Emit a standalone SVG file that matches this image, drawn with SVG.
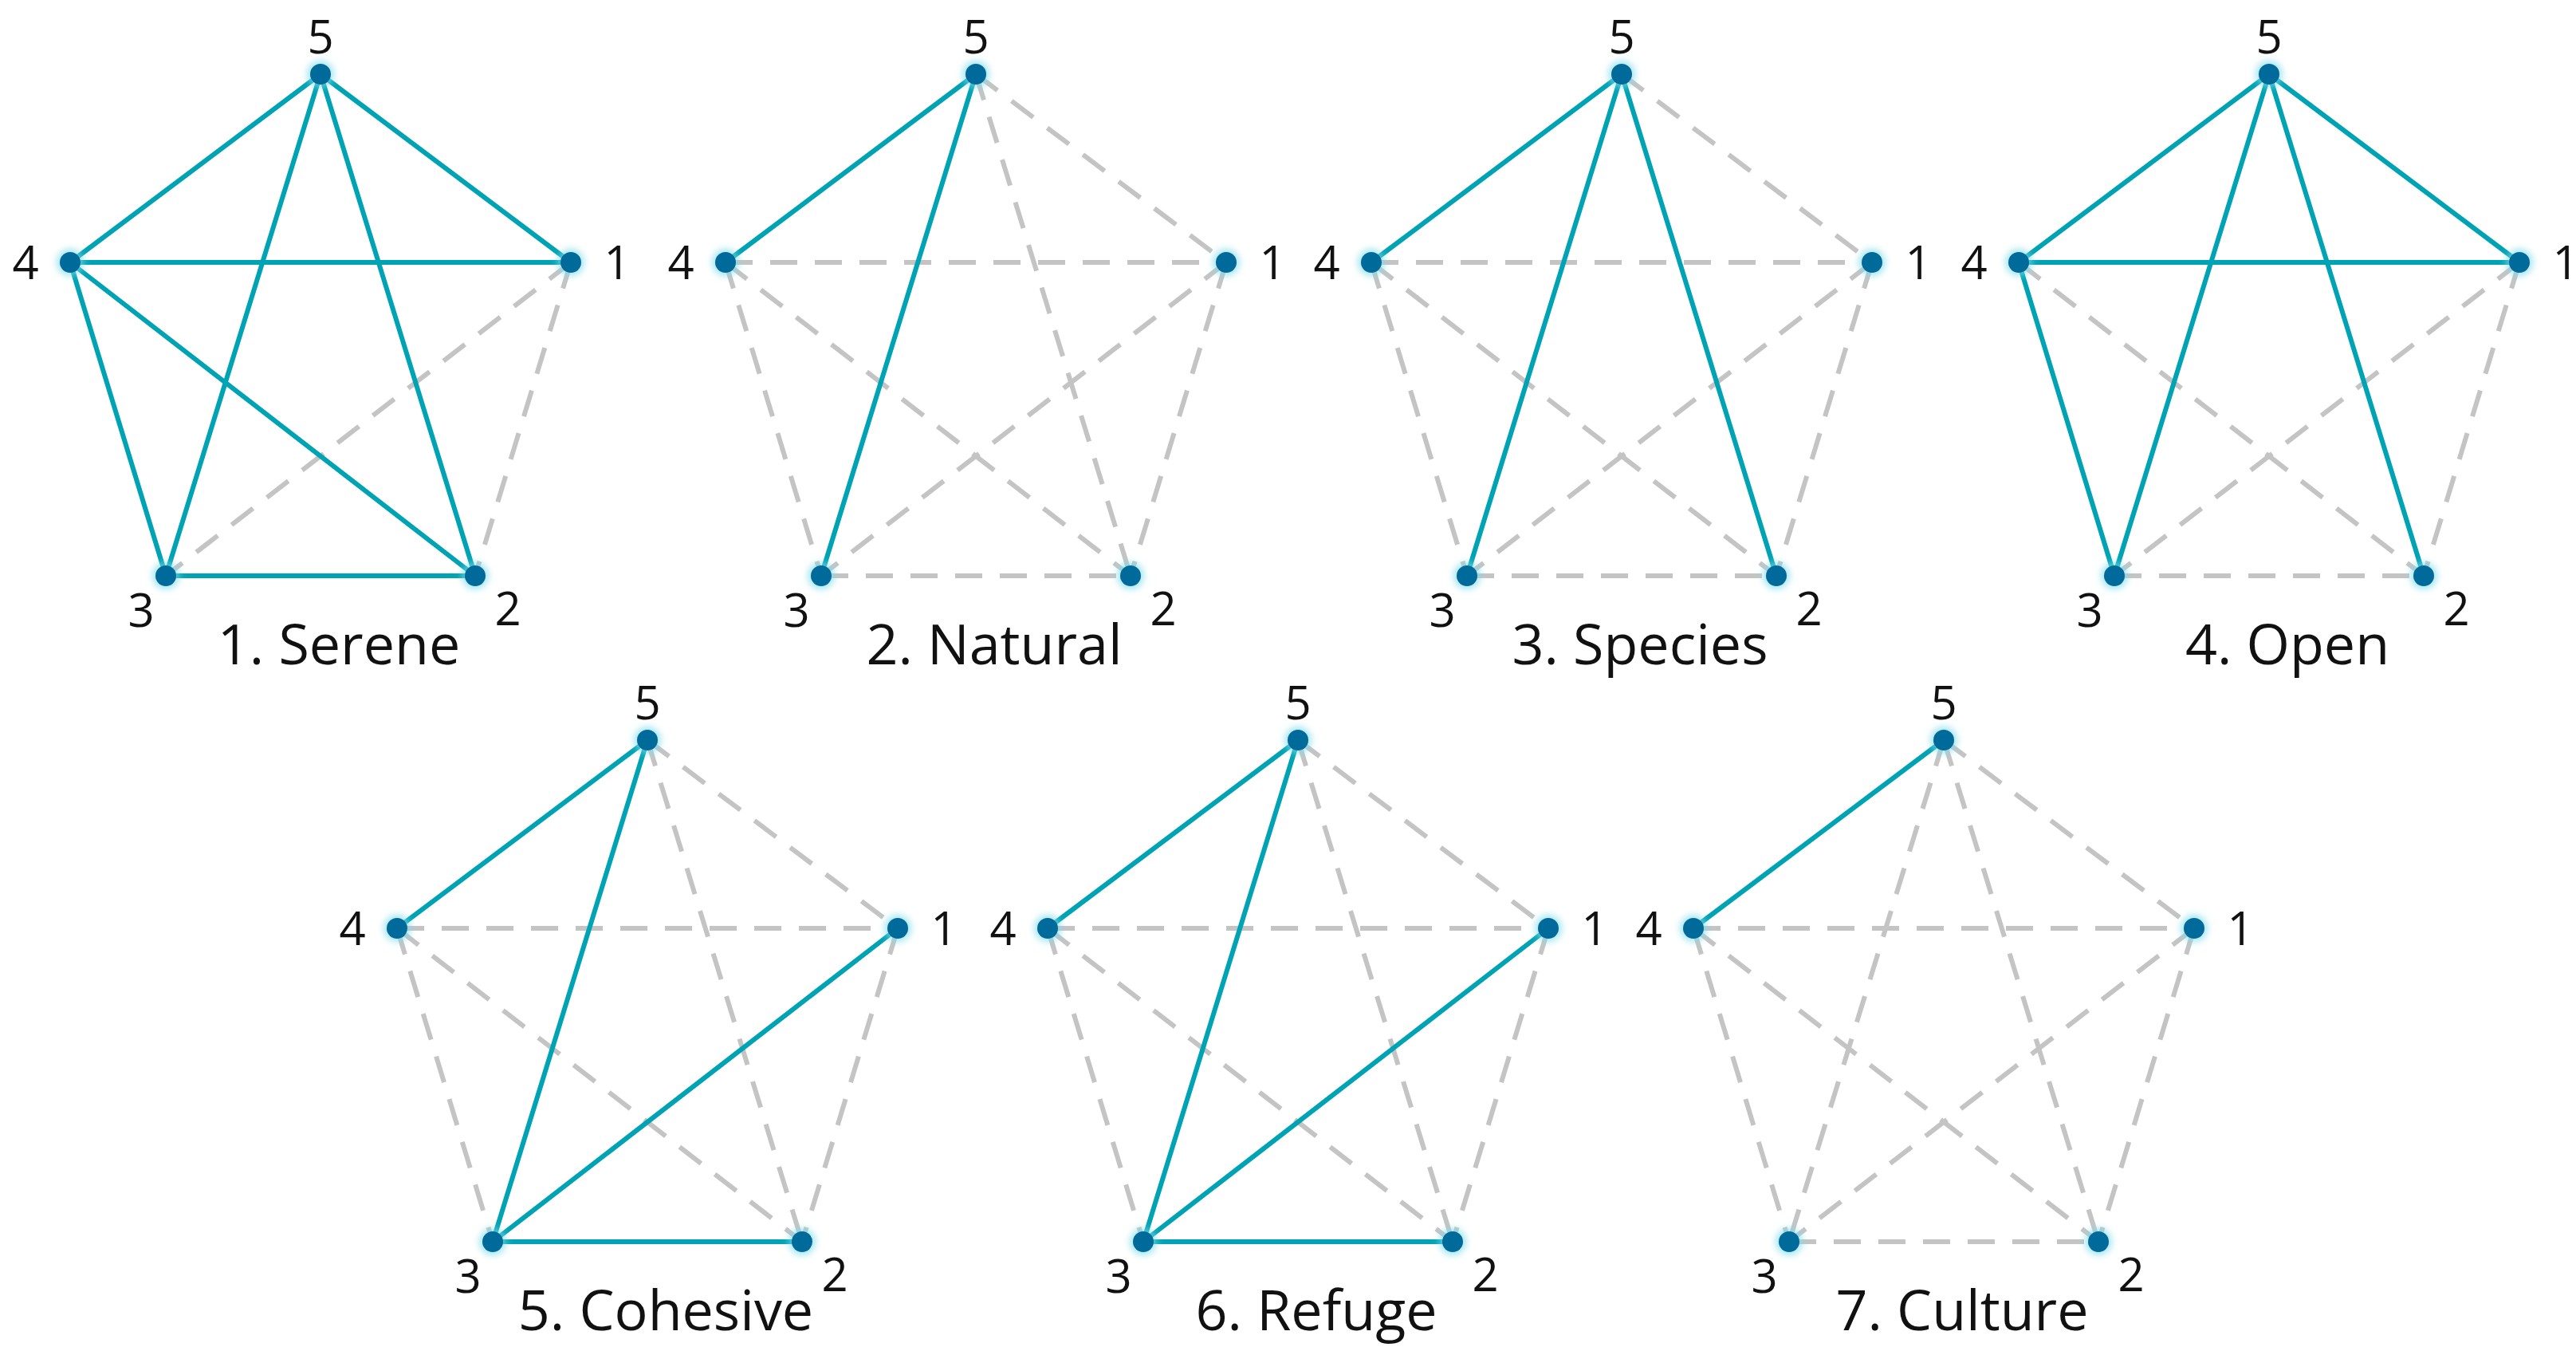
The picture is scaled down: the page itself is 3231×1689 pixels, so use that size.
<svg xmlns="http://www.w3.org/2000/svg" xmlns:xlink="http://www.w3.org/1999/xlink" width="3231" height="1689" viewBox="0 0 3231 1689">
<style>
.s{stroke:#00a3b4;stroke-width:6;fill:none}
.d{stroke:#c4c4c4;stroke-width:6;stroke-dasharray:34 22;fill:none}
.n{fill:#006b9b}
.g{fill:#7fdcec;opacity:.7;filter:url(#b)}
text{font-family:"Open Sans","Liberation Sans",sans-serif;fill:#111;font-weight:500}
.l{font-size:58px;text-anchor:middle}
.t{font-size:70px;text-anchor:middle}
</style>
<defs>
<filter id="b" x="-1" y="-1" width="3" height="3"><feGaussianBlur stdDeviation="4"/></filter>
<g id="nodes">
<circle class="g" cx="0" cy="0" r="17"/><circle class="g" cx="-314" cy="236" r="17"/><circle class="g" cx="314" cy="236" r="17"/><circle class="g" cx="-194" cy="629" r="17"/><circle class="g" cx="194" cy="629" r="17"/>
<circle class="n" cx="0" cy="0" r="13"/><circle class="n" cx="-314" cy="236" r="13"/><circle class="n" cx="314" cy="236" r="13"/><circle class="n" cx="-194" cy="629" r="13"/><circle class="n" cx="194" cy="629" r="13"/>
<text class="l" x="0" y="-26">5</text><text class="l" x="-370" y="257">4</text><text class="l" x="372" y="257">1</text><text class="l" x="-225" y="693">3</text><text class="l" x="235" y="691">2</text>
</g>
</defs>
<g id="connectors">
<g transform="translate(402,93)">
<path class="d" d="M314,236L-194,629M314,236L194,629"/>
<path class="s" d="M0,0L-314,236M0,0L314,236M0,0L-194,629M0,0L194,629M-314,236L314,236M-314,236L-194,629M-314,236L194,629M-194,629L194,629"/>
</g>
<g transform="translate(1224,93)">
<path class="d" d="M0,0L314,236M0,0L194,629M-314,236L314,236M-314,236L-194,629M-314,236L194,629M314,236L-194,629M314,236L194,629M-194,629L194,629"/>
<path class="s" d="M0,0L-314,236M0,0L-194,629"/>
</g>
<g transform="translate(2034,93)">
<path class="d" d="M0,0L314,236M-314,236L314,236M-314,236L-194,629M-314,236L194,629M314,236L-194,629M314,236L194,629M-194,629L194,629"/>
<path class="s" d="M0,0L-314,236M0,0L-194,629M0,0L194,629"/>
</g>
<g transform="translate(2846,93)">
<path class="d" d="M-314,236L194,629M314,236L-194,629M314,236L194,629M-194,629L194,629"/>
<path class="s" d="M0,0L-314,236M0,0L314,236M0,0L-194,629M0,0L194,629M-314,236L314,236M-314,236L-194,629"/>
</g>
<g transform="translate(812,928)">
<path class="d" d="M0,0L314,236M0,0L194,629M-314,236L314,236M-314,236L-194,629M-314,236L194,629M314,236L194,629"/>
<path class="s" d="M0,0L-314,236M0,0L-194,629M-194,629L314,236M-194,629L194,629"/>
</g>
<g transform="translate(1628,928)">
<path class="d" d="M0,0L314,236M0,0L194,629M-314,236L314,236M-314,236L-194,629M-314,236L194,629M314,236L194,629"/>
<path class="s" d="M0,0L-314,236M0,0L-194,629M-194,629L314,236M-194,629L194,629"/>
</g>
<g transform="translate(2438,928)">
<path class="d" d="M0,0L314,236M0,0L-194,629M0,0L194,629M-314,236L314,236M-314,236L-194,629M-314,236L194,629M314,236L-194,629M314,236L194,629M-194,629L194,629"/>
<path class="s" d="M0,0L-314,236"/>
</g>
</g>
<g id="g1" transform="translate(402,93)"><use xlink:href="#nodes"/><text class="t" x="23" y="740">1. Serene</text></g>
<g id="g2" transform="translate(1224,93)"><use xlink:href="#nodes"/><text class="t" x="23" y="740">2. Natural</text></g>
<g id="g3" transform="translate(2034,93)"><use xlink:href="#nodes"/><text class="t" x="23" y="740">3. Species</text></g>
<g id="g4" transform="translate(2846,93)"><use xlink:href="#nodes"/><text class="t" x="23" y="740">4. Open</text></g>
<g id="g5" transform="translate(812,928)"><use xlink:href="#nodes"/><text class="t" x="23" y="740">5. Cohesive</text></g>
<g id="g6" transform="translate(1628,928)"><use xlink:href="#nodes"/><text class="t" x="23" y="740">6. Refuge</text></g>
<g id="g7" transform="translate(2438,928)"><use xlink:href="#nodes"/><text class="t" x="23" y="740">7. Culture</text></g>
</svg>
